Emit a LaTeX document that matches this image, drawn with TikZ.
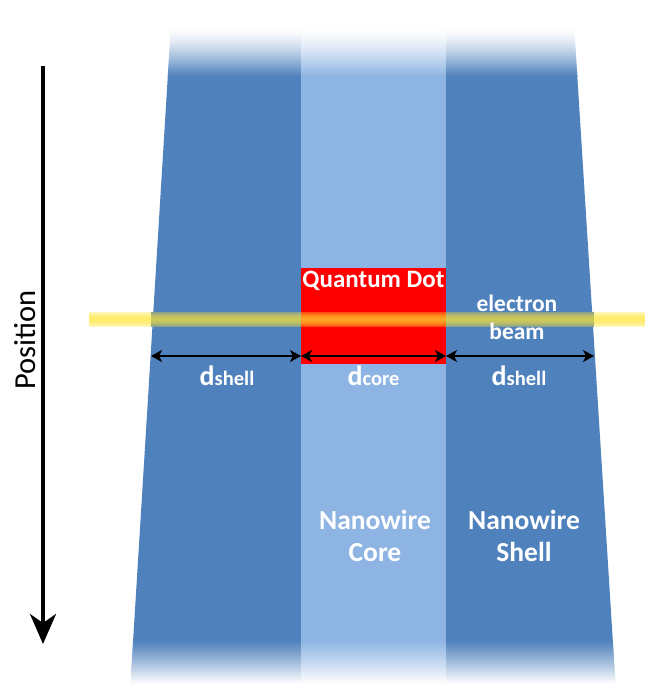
\documentclass[tikz,border=0pt]{standalone}
\usepackage{fontspec}
\setmainfont{Carlito}
\usetikzlibrary{arrows.meta}

\definecolor{shellblue}{HTML}{4F81BD}
\definecolor{coreblue}{HTML}{8EB4E3}
\definecolor{dotred}{HTML}{FF0000}
\definecolor{beamyellow}{HTML}{FFE432}

\begin{document}
\begin{tikzpicture}[x=1pt,y=-1pt,
	lbl/.style={text=white, font=\bfseries\fontsize{27.5}{32}\selectfont, align=center, inner sep=0pt},
	dimarrow/.style={black, line width=2pt, {Stealth[length=11pt,width=12pt,inset=3pt]}-{Stealth[length=11pt,width=12pt,inset=3pt]}}]
	    \useasboundingbox (0,0) rectangle (645,691);
	    
	    % nanowire shell and core, fading to white at both ends
	    \begin{scope}
	    \clip (172,8) -- (573,8) -- (616,691) -- (130,691) -- cycle;
	    \fill[shellblue] (120,74) rectangle (630,642);
	    \fill[coreblue] (301,74) rectangle (446,642);
	    \foreach \i in {0,...,23}{
	        \pgfmathsetmacro{\pct}{100*((2*\i+1)/48)^1.4}
	        \fill[shellblue!\pct!white] (120,28+2*\i) rectangle (630,30.5+2*\i);
	        \fill[coreblue!\pct!white] (301,28+2*\i) rectangle (446,30.5+2*\i);
	    }
	    \foreach \i in {0,...,21}{
	        \pgfmathsetmacro{\pct}{100-100*((2*\i+1)/44)^1.1}
	        \fill[shellblue!\pct!white] (120,640+2*\i) rectangle (630,642.5+2*\i);
	        \fill[coreblue!\pct!white] (301,640+2*\i) rectangle (446,642.5+2*\i);
	    }
	    \end{scope}
	    
	    % quantum dot
	    \node [fill=dotred, inner sep=0pt, minimum width=145pt, minimum height=96pt] (qd) at (373.5,316) {};
	    \node [lbl, font=\bfseries\fontsize{25}{28}\selectfont] (qdlabel) at (373.5,281) {Quantum Dot};
	    
	    % electron beam
	    \foreach \r in {0,...,14}{
	        \pgfmathsetmacro{\al}{30+42*sin(180*(\r+0.5)/15)}
	        \fill[beamyellow!\al!white] (89,312+\r) rectangle (151,313.2+\r);
	        \fill[beamyellow!\al!shellblue] (151,312+\r) rectangle (301,313.2+\r);
	        \fill[beamyellow!\al!dotred] (301,312+\r) rectangle (446,313.2+\r);
	        \fill[beamyellow!\al!shellblue] (446,312+\r) rectangle (594,313.2+\r);
	        \fill[beamyellow!\al!white] (594,312+\r) rectangle (645,313.2+\r);
	    }
	    \node [lbl, font=\bfseries\fontsize{23.5}{28}\selectfont] (beamlabel) at (517,317) {electron\\beam};
	    
	    % widths
	    \coordinate (sl) at (151,356);
	    \coordinate (cl) at (301,356);
	    \coordinate (cr) at (446,356);
	    \coordinate (sr) at (594,356);
	    
		\draw [dimarrow] (sl) -- (cl);
		\draw [dimarrow] (cl) -- (cr);
		\draw [dimarrow] (cr) -- (sr);
		
	    \node [lbl, font=\bfseries\fontsize{28}{30}\selectfont] (dsl) at (227,376) {d{\fontsize{20.5}{22}\selectfont shell}};
	    \node [lbl, font=\bfseries\fontsize{28}{30}\selectfont] (dc) at (373.5,376) {d{\fontsize{20.5}{22}\selectfont core}};
	    \node [lbl, font=\bfseries\fontsize{28}{30}\selectfont] (dsr) at (519,376) {d{\fontsize{20.5}{22}\selectfont shell}};
	    
	    % region names
	    \node [lbl] (corelabel) at (375,536) {Nanowire\\Core};
	    \node [lbl] (shelllabel) at (524,536) {Nanowire\\Shell};
	    
	    % position axis
	    \coordinate (ptop) at (43,66);
	    \coordinate (pbot) at (43,644);
		\draw [black, line width=3.5pt, -{Stealth[length=30pt,width=26pt,inset=9pt]}] (ptop) -- (pbot);
	    \node [rotate=90, font=\fontsize{30.5}{34}\selectfont] (poslabel) at (25,340) {Position};
		
	\end{tikzpicture}
\end{document}
